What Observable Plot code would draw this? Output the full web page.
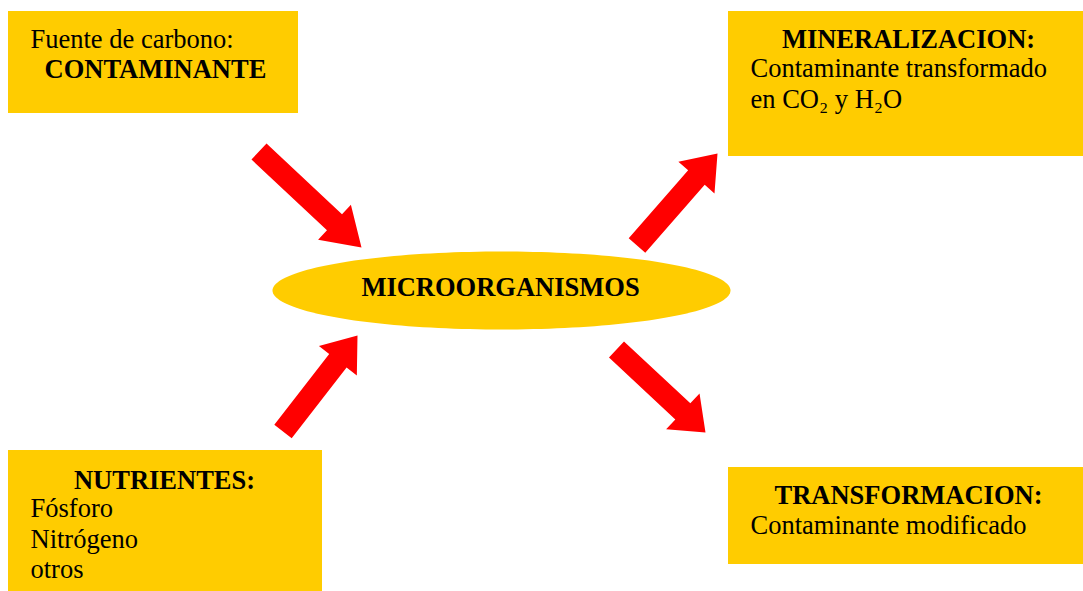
<!DOCTYPE html>
<html>
<head>
<meta charset="utf-8">
<script src="https://cdn.jsdelivr.net/npm/d3@7"></script>
<script src="https://cdn.jsdelivr.net/npm/@observablehq/plot@0.6"></script>
<style>
  html, body { margin: 0; padding: 0; background: #ffffff; }
  #chart svg { display: block; }
</style>
</head>
<body>
<div id="chart"></div>
<script>
// Diagram content
const boxNames = ["fuente", "mineralizacion", "nutrientes", "transformacion"];
const boxX1 = [8, 728, 8, 728];
const boxX2 = [298, 1083, 322, 1083];
const boxY1 = [11, 11, 450, 467];
const boxY2 = [113, 156, 591, 564];

const centerLabel = "MICROORGANISMOS";
const ellipseCenter = [501, 290];
const ellipseRadii = [229, 39];

// Text lines: text, x, baseline y, bold, anchor
const lineTexts = [
  "Fuente de carbono:", "CONTAMINANTE",
  "MINERALIZACION:", "Contaminante transformado", "en CO\u2082 y H\u2082O",
  "NUTRIENTES:", "Fósforo", "Nitrógeno", "otros",
  "TRANSFORMACION:", "Contaminante modificado",
  centerLabel
];
const lineX = [30, 44, 908, 750, 750, 164, 30, 30, 30, 908, 750, 500];
const lineY = [47, 77, 47, 76, 107, 488, 516, 547, 577, 503, 533, 295];
const lineBold = [false, true, true, false, false, true, false, false, false, true, false, true];
const lineAnchor = ["start", "start", "middle", "start", "start", "middle", "start", "start", "start", "middle", "start", "middle"];

// Arrows: tail center, tip, shaft width, head width, head length
const arrowTail = [[258.5, 151], [636.5, 245], [616, 349], [282.5, 431]];
const arrowTip = [[361, 247], [717, 153], [705, 432], [357, 335]];
const shaftWidth = [22, 22, 22, 22];
const headWidth = [48, 48, 49, 48];
const headLength = [37, 32, 31, 32];

const YELLOW = "#FFCC00";
const RED = "#FF0000";
const W = 1083, H = 591;

const boxes = boxNames.map((n, i) => ({name: n, x1: boxX1[i], x2: boxX2[i], y1: boxY1[i], y2: boxY2[i]}));
const lines = lineTexts.map((t, i) => ({text: t, x: lineX[i], y: lineY[i], bold: lineBold[i], anchor: lineAnchor[i]}));

// arrow polygon vertices
const arrowPts = [];
arrowTail.forEach((t, i) => {
  const [x0, y0] = t, [x1, y1] = arrowTip[i];
  const dx = x1 - x0, dy = y1 - y0, L = Math.hypot(dx, dy);
  const ux = dx / L, uy = dy / L, px = -uy, py = ux;
  const sw = shaftWidth[i] / 2, hw = headWidth[i] / 2, hl = headLength[i];
  const bx = x1 - ux * hl, by = y1 - uy * hl;
  const pts = [
    [x0 + px * sw, y0 + py * sw],
    [bx + px * sw, by + py * sw],
    [bx + px * hw, by + py * hw],
    [x1, y1],
    [bx - px * hw, by - py * hw],
    [bx - px * sw, by - py * sw],
    [x0 - px * sw, y0 - py * sw]
  ];
  pts.forEach(p => arrowPts.push({arrow: i, x: p[0], y: p[1]}));
});

// ellipse outline
const ellipsePts = d3.range(0, 361, 2).map(a => {
  const r = a * Math.PI / 180;
  return {x: ellipseCenter[0] + ellipseRadii[0] * Math.cos(r), y: ellipseCenter[1] + ellipseRadii[1] * Math.sin(r)};
});

const font = "'Liberation Serif', 'Times New Roman', Times, serif";

const textMark = (data, weight, anchor) => Plot.text(data, {
  x: "x", y: "y", text: "text",
  textAnchor: anchor, lineAnchor: "bottom",
  fontSize: 26.5, fontWeight: weight, fontFamily: font, fill: "#000000"
});

const chart = Plot.plot({
  width: W, height: H,
  margin: 0,
  x: {domain: [0, W], range: [0, W], axis: null},
  y: {domain: [0, H], range: [0, H], axis: null},
  style: {background: "#ffffff", fontFamily: font},
  marks: [
    Plot.rect(boxes, {x1: "x1", x2: "x2", y1: "y1", y2: "y2", fill: YELLOW}),
    Plot.line(ellipsePts, {x: "x", y: "y", fill: YELLOW, stroke: "none", curve: "linear-closed"}),
    Plot.line(arrowPts, {x: "x", y: "y", z: "arrow", fill: RED, stroke: "none", curve: "linear-closed"}),
    textMark(lines.filter(d => !d.bold && d.anchor === "start"), "normal", "start"),
    textMark(lines.filter(d => d.bold && d.anchor === "start"), "bold", "start"),
    textMark(lines.filter(d => d.bold && d.anchor === "middle"), "bold", "middle")
  ]
});
document.getElementById("chart").appendChild(chart);
</script>
</body>
</html>
